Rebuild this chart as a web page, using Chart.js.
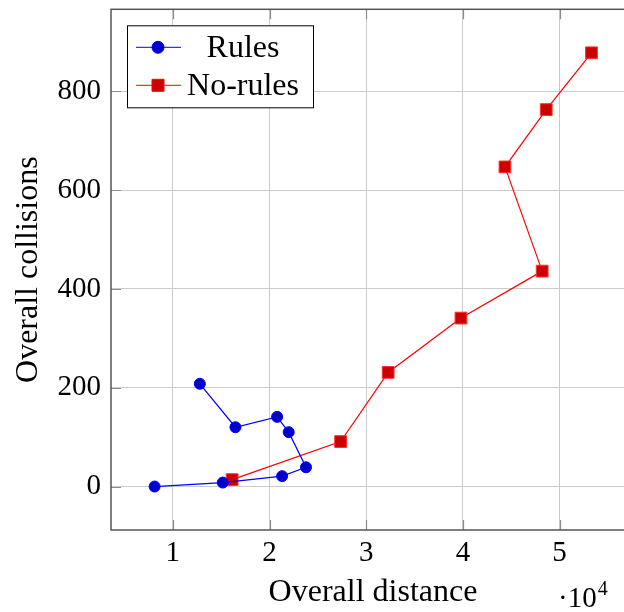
<!DOCTYPE html>
<html>
<head>
<meta charset="utf-8">
<script src="https://cdn.jsdelivr.net/npm/chart.js@4.4.0/dist/chart.umd.min.js"></script>
<style>
  html, body { margin: 0; padding: 0; overflow: hidden; background: #fff; }
  canvas { display: block; }
</style>
</head>
<body>
<canvas id="chart" width="660" height="612"></canvas>
<script>
// data (distance in raw units, shown as x 10^4)
const seriesNames = ["Rules", "No-rules"];
const rulesDistance = [12790, 16470, 20780, 21980, 23770, 21300, 15160, 8110];
const rulesCollisions = [208, 120, 141, 110, 39, 21, 8, 0];
const noRulesDistance = [16130, 27350, 32270, 39800, 48200, 44350, 48620, 53300];
const noRulesCollisions = [14, 91, 231, 341, 436, 647, 763, 878];
const xTickValues = [10000, 20000, 30000, 40000, 50000];
const yTickValues = [0, 200, 400, 600, 800];

const FONT = "'Liberation Serif', 'Times New Roman', serif";
Chart.defaults.font.family = FONT;
Chart.defaults.font.size = 29;
Chart.defaults.color = "#000";

const toPoints = (xs, ys) => xs.map((x, i) => ({ x: x, y: ys[i] }));

// tick marks, frame, legend and the x10^4 label
const framePlugin = {
  id: "frame",
  beforeDatasetsDraw(chart) {
    const { ctx, chartArea: a, scales: { x, y } } = chart;
    ctx.save();
    ctx.strokeStyle = "#8c8c8c";
    ctx.lineWidth = 1.2;
    ctx.beginPath();
    xTickValues.forEach((v) => {
      const px = Math.round(x.getPixelForValue(v)) + 0.5;
      ctx.moveTo(px, a.bottom); ctx.lineTo(px, a.bottom - 10);
      ctx.moveTo(px, a.top); ctx.lineTo(px, a.top + 10);
    });
    yTickValues.forEach((v) => {
      const py = Math.round(y.getPixelForValue(v)) + 0.5;
      ctx.moveTo(a.left, py); ctx.lineTo(a.left + 10, py);
      ctx.moveTo(a.right, py); ctx.lineTo(a.right - 10, py);
    });
    ctx.stroke();
    ctx.restore();
  },
  afterDraw(chart) {
    const { ctx, chartArea: a } = chart;
    ctx.save();
    ctx.strokeStyle = "#555";
    ctx.lineWidth = 1.5;
    ctx.strokeRect(a.left, a.top, a.right - a.left, a.bottom - a.top);

    // legend
    const lx = a.left + 16, ly = a.top + 16, lw = 186, lh = 82;
    ctx.fillStyle = "#fff";
    ctx.fillRect(lx, ly, lw, lh);
    ctx.strokeStyle = "#000";
    ctx.lineWidth = 1;
    ctx.strokeRect(lx + 0.5, ly + 0.5, lw, lh);
    const rows = [
      { y: ly + 22, line: "#0000ff", fill: "#0000cc", shape: "circle" },
      { y: ly + 60, line: "#ff0000", fill: "#cc0000", shape: "rect" },
    ];
    ctx.font = "32px " + FONT;
    ctx.textAlign = "center";
    ctx.textBaseline = "middle";
    rows.forEach((r, i) => {
      ctx.strokeStyle = r.line;
      ctx.lineWidth = 1;
      ctx.beginPath();
      ctx.moveTo(lx + 9, r.y); ctx.lineTo(lx + 54, r.y);
      ctx.stroke();
      ctx.fillStyle = r.fill;
      ctx.beginPath();
      if (r.shape === "circle") ctx.arc(lx + 31, r.y, 6, 0, Math.PI * 2);
      else ctx.rect(lx + 25, r.y - 6, 12, 12);
      ctx.fill();
      ctx.stroke();
      ctx.fillStyle = "#000";
      ctx.fillText(seriesNames[i], lx + 116, r.y + 1);
    });

    // exponent label
    ctx.textAlign = "left";
    ctx.textBaseline = "alphabetic";
    ctx.font = "29px " + FONT;
    ctx.fillText("·10", 558, 607);
    const w = ctx.measureText("·10").width;
    ctx.font = "20px " + FONT;
    ctx.fillText("4", 558 + w + 1, 595);
    ctx.restore();
  },
};

new Chart(document.getElementById("chart"), {
  type: "scatter",
  data: {
    datasets: [
      {
        label: seriesNames[0],
        data: toPoints(rulesDistance, rulesCollisions),
        showLine: true,
        borderColor: "#0000ff",
        backgroundColor: "#0000cc",
        borderWidth: 1.2,
        pointStyle: "circle",
        pointRadius: 5.5,
        pointBorderWidth: 1,
        pointBorderColor: "#0000ff",
        pointBackgroundColor: "#0000cc",
      },
      {
        label: seriesNames[1],
        data: toPoints(noRulesDistance, noRulesCollisions),
        showLine: true,
        borderColor: "#ff0000",
        backgroundColor: "#cc0000",
        borderWidth: 1.2,
        pointStyle: "rect",
        pointRadius: 8.3,
        pointBorderWidth: 1,
        pointBorderColor: "#ff3030",
        pointBackgroundColor: "#cc0000",
      },
    ],
  },
  options: {
    responsive: false,
    animation: false,
    layout: { padding: { top: 5, right: 25, left: 0, bottom: 0 } },
    plugins: { legend: { display: false }, tooltip: { enabled: false } },
    scales: {
      x: {
        type: "linear",
        min: 3600,
        max: 57800,
        afterFit: (s) => {
          s.height = 82;
          s.paddingLeft = 0; s.paddingRight = 0;
        },
        afterBuildTicks: (s) => { s.ticks = xTickValues.map((v) => ({ value: v })); },
        grid: { color: "#cccccc", drawTicks: false },
        border: { display: false },
        ticks: { padding: 6, callback: (v) => v / 10000 },
        title: {
          display: true,
          text: "Overall distance",
          font: { size: 32, lineHeight: 1.2 },
          padding: { top: 0, bottom: 0 },
        },
      },
      y: {
        type: "linear",
        min: -88,
        max: 966,
        afterFit: (s) => {
          s.width = 111;
          s.paddingTop = 0; s.paddingBottom = 0;
        },
        afterBuildTicks: (s) => { s.ticks = yTickValues.map((v) => ({ value: v })); },
        grid: { color: "#cccccc", drawTicks: false },
        border: { display: false },
        ticks: { padding: 10 },
        title: {
          display: true,
          text: "Overall collisions",
          font: { size: 32, lineHeight: 1.2 },
          padding: { top: 9, bottom: 0 },
        },
      },
    },
  },
  plugins: [framePlugin],
});
</script>
</body>
</html>
